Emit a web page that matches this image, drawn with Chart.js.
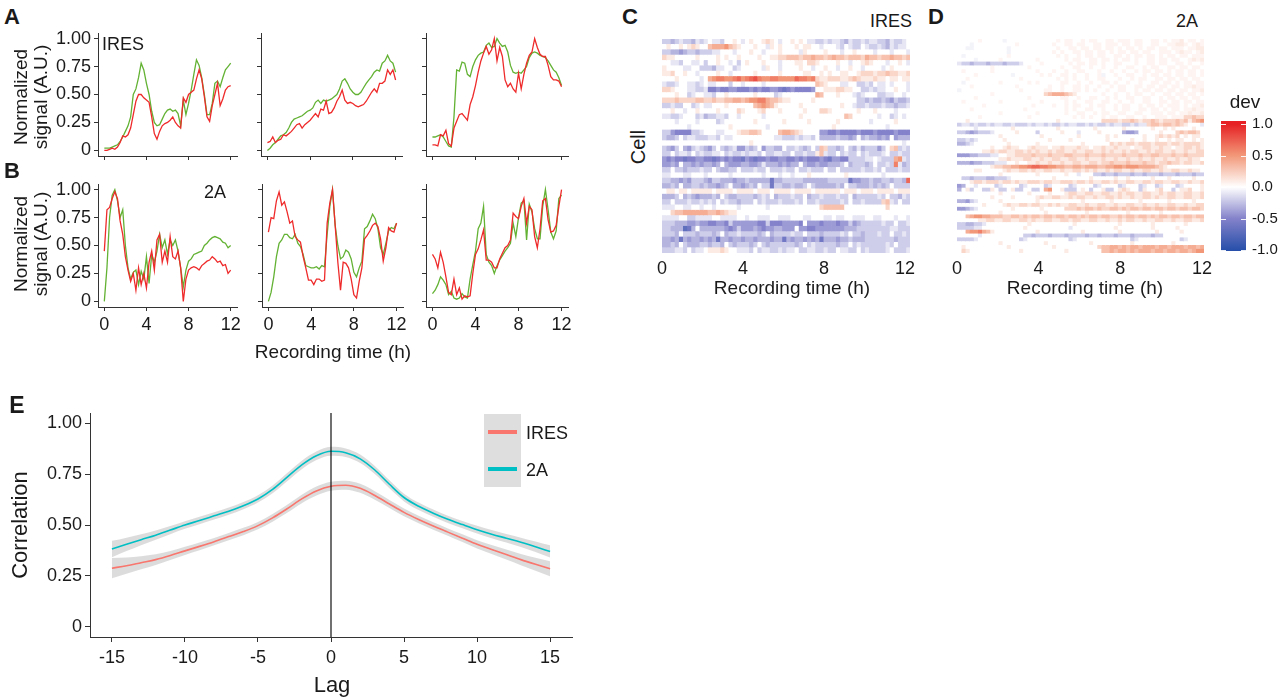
<!DOCTYPE html>
<html><head><meta charset="utf-8">
<script src="https://cdn.jsdelivr.net/npm/chart.js@4.4.0/dist/chart.umd.min.js"></script>
<style>
html,body{margin:0;padding:0}
body{width:1284px;height:697px;background:#fff;position:relative;overflow:hidden;font-family:"Liberation Sans",Arial,sans-serif;color:#1a1a1a}
canvas{position:absolute}
.t{position:absolute;white-space:nowrap;line-height:1}
</style></head><body>
<script>
// ---------------- DATA ----------------
const hours = [0,0.25,0.5,0.75,1,1.25,1.5,1.75,2,2.25,2.5,2.75,3,3.25,3.5,3.75,4,4.25,4.5,4.75,5,5.25,5.5,5.75,6,6.25,6.5,6.75,7,7.25,7.5,7.75,8,8.25,8.5,8.75,9,9.25,9.5,9.75,10,10.25,10.5,10.75,11,11.25,11.5,11.75,12];
const timeTicks = [0,4,8,12];
const signalTicks = [0,0.25,0.5,0.75,1];

const iresCell1Green = [0.02,0.02,0.02,0.03,0.04,0.05,0.08,0.12,0.17,0.22,0.3,0.5,0.55,0.65,0.78,0.72,0.6,0.5,0.35,0.25,0.22,0.23,0.28,0.33,0.36,0.37,0.35,0.36,0.33,0.22,0.45,0.32,0.42,0.54,0.68,0.81,0.76,0.65,0.5,0.32,0.32,0.42,0.6,0.62,0.57,0.65,0.72,0.75,0.78];
const iresCell1Red = [0,0,0.01,0.02,0.01,0.03,0.07,0.13,0.12,0.14,0.2,0.32,0.44,0.5,0.5,0.47,0.45,0.43,0.3,0.15,0.1,0.17,0.22,0.24,0.25,0.27,0.3,0.25,0.22,0.2,0.47,0.43,0.5,0.52,0.54,0.64,0.72,0.64,0.48,0.3,0.26,0.4,0.5,0.6,0.4,0.46,0.54,0.57,0.58];
const iresCell2Green = [0,0.02,0.05,0.07,0.1,0.13,0.14,0.16,0.2,0.25,0.28,0.29,0.3,0.31,0.33,0.35,0.36,0.38,0.43,0.45,0.42,0.45,0.44,0.45,0.46,0.48,0.5,0.55,0.62,0.64,0.6,0.55,0.52,0.5,0.5,0.52,0.56,0.6,0.63,0.66,0.7,0.72,0.71,0.78,0.8,0.85,0.8,0.78,0.7];
const iresCell2Red = [0.07,0.08,0.12,0.07,0.09,0.1,0.14,0.13,0.15,0.17,0.2,0.23,0.24,0.2,0.23,0.25,0.27,0.3,0.33,0.3,0.37,0.36,0.44,0.33,0.34,0.38,0.44,0.48,0.54,0.45,0.42,0.43,0.42,0.4,0.39,0.4,0.41,0.44,0.48,0.52,0.55,0.52,0.6,0.6,0.62,0.72,0.68,0.72,0.63];
const iresCell3Green = [0.12,0.12,0.13,0.14,0.12,0.08,0.04,0.03,0.3,0.72,0.71,0.79,0.78,0.68,0.66,0.75,0.81,0.85,0.87,0.88,0.94,0.96,0.92,0.93,1.0,0.96,0.93,0.94,0.88,0.76,0.7,0.69,0.7,0.69,0.72,0.75,0.83,0.87,0.88,0.87,0.85,0.84,0.83,0.8,0.76,0.72,0.7,0.65,0.58];
const iresCell3Red = [0.05,0.05,0.04,0.14,0.13,0.18,0.06,0.04,0.2,0.26,0.32,0.33,0.3,0.27,0.41,0.48,0.58,0.7,0.8,0.87,0.93,0.86,0.9,1.0,0.8,0.92,0.84,0.63,0.57,0.6,0.55,0.52,0.69,0.55,0.68,0.78,0.85,0.88,1.0,0.92,0.86,0.84,0.84,0.76,0.66,0.63,0.63,0.62,0.57];

const twoACell1Green = [0,0.3,0.75,0.95,1.0,0.9,0.75,0.82,0.5,0.3,0.2,0.26,0.28,0.15,0.27,0.2,0.4,0.16,0.42,0.35,0.45,0.6,0.48,0.55,0.42,0.55,0.5,0.55,0.45,0.3,0.13,0.28,0.36,0.38,0.42,0.43,0.44,0.45,0.5,0.52,0.55,0.57,0.58,0.57,0.56,0.53,0.52,0.48,0.5];
const twoACell1Red = [0.45,0.82,0.84,0.92,0.98,0.92,0.72,0.6,0.4,0.28,0.18,0.25,0.1,0.3,0.15,0.25,0.12,0.35,0.45,0.28,0.55,0.6,0.35,0.45,0.35,0.58,0.4,0.38,0.45,0.3,0,0.2,0.28,0.3,0.31,0.3,0.28,0.32,0.34,0.36,0.37,0.4,0.38,0.35,0.36,0.32,0.33,0.25,0.28];
const twoACell2Green = [0,0.08,0.22,0.4,0.52,0.55,0.6,0.6,0.57,0.56,0.6,0.52,0.49,0.42,0.32,0.31,0.3,0.3,0.31,0.29,0.32,0.31,0.6,0.85,1.0,0.68,0.5,0.38,0.4,0.46,0.44,0.38,0.26,0.22,0.3,0.36,0.65,0.67,0.72,0.78,0.74,0.65,0.48,0.42,0.52,0.63,0.66,0.65,0.7];
const twoACell2Red = [0.62,0.75,0.74,0.9,0.98,0.86,0.89,0.8,0.7,0.72,0.58,0.55,0.53,0.4,0.3,0.19,0.19,0.15,0.2,0.2,0.18,0.19,0.7,0.88,1.0,0.68,0.35,0.1,0.35,0.34,0.3,0.2,0.06,0.03,0.18,0.3,0.56,0.59,0.63,0.68,0.7,0.67,0.56,0.36,0.48,0.66,0.63,0.62,0.7];
const twoACell3Green = [0.07,0.1,0.15,0.22,0.19,0.15,0.06,0.09,0.03,0.02,0.03,0.07,0.04,0.03,0.2,0.33,0.45,0.65,0.7,0.85,0.42,0.35,0.32,0.25,0.32,0.37,0.41,0.45,0.48,0.52,0.7,0.58,0.75,0.88,0.9,0.55,0.87,0.8,0.65,0.56,0.56,0.85,1.0,0.82,0.62,0.56,0.63,0.92,0.95];
const twoACell3Red = [0.42,0.38,0.3,0.44,0.35,0.22,0.08,0.06,0.2,0.06,0.12,0.02,0.05,0.04,0.05,0.25,0.42,0.47,0.55,0.64,0.37,0.37,0.35,0.3,0.3,0.38,0.43,0.48,0.5,0.55,0.79,0.76,0.74,0.85,0.92,0.7,0.85,0.82,0.58,0.48,0.65,0.9,0.92,0.73,0.62,0.63,0.68,0.85,1.0];

// heatmap rows: one letter per time cell.
// lower case: j = 0, each letter step = 0.1 dev (i,h,g.. blue; k,l,m.. red)
// upper case: J = 0, each letter step = 0.05 dev (I blue, K,L red)
const iresRows = [
"hhghihhgih ijiihjjkji jkjjklkjij jkjkjiihhi hiihgihhih iihhgihhij",
"jkjjkjklkj jmnnnomlkj jjkjjikjkj jjkjkkjjij jjihjihhji hhihgihiij",
"hhggfghhgh hhiijjjijj jkjjijjjkj jjjikjjjjk jjjijjkjjj jijjjijjji",
"lkkjjjjjkj jjjkjkjjkj jjjkjjkkll mmmlmmnmml mnmmlmmmln mmlmmnmmlm",
"jjiihjjiij hjjkjjijhj kjjjkjjjij jjkkjllkjj jjkjjijjkl kjjjijjkji",
"kjjjjiijjh hhgiijjhij jjjjikjjij jjjkjjijjk jjijjkjjij jjjijkjjjj",
"kkljjkjjij jjjkjjijjj jjkjjjjjkj jjjjkkjjkj kjjkkjjkll lkllmllkkl",
"jjjkjjjjji jnoppoopqo pqrpooppoo ooqppoplkk lllkklmlkk klkkjkkjkk",
"ihhijjiihi jiijjjhjji jjjjijjjjj jjjjjjjmlk jjjiijjhhi hjiijijjji",
"llkjjjiihh ieefeeffee efefeeffed efeeeefjjk kkllkkjjhh ihiijjkjji",
"jjjkjjhijj iihjjkjjjj jjkjjjjhij jjjjjjjnmj jjkjjjihij jjhhiijjij",
"lllmllllmm llmllmmnnm nooppnmmlk kjjjjjkjjj jjjjjjjhhg hgghgfhggh",
"hhihhjjhij iijjjkjjjj jjmnonmkjj jjjkjjjjjj jjjkjjihhi hhhihhghhi",
"jjkjjijjkj jjjkjjjjlk jjjkljjjkj jjjjkjjjll kjjjjjjkjj jkjjjjijjj",
"iihhijjjhi ghhiihjjij jjjjijjjjj jjjkjjjjjj jjjjmljjjj jjijjhijij",
"jjjijjjjij jjjhijjjjj jjkjjjjjjk jjjjjkjjjj jjkjjjjjjj ijjjjjkjjj",
"jjjjjjijjj jjjjjjkjjj jjjjjijjjj jjjjjjjjjj jkjjjjjjjj jjjjijjjjj",
"hhfeeeehhi jjjiijjjkl lmmljjjjmn nmlkjjjjff eefeeeefee efeeeefeee",
"hgghjhiihh hiihjiijjj jjjjjjjiih hhihiihjgg gghggfgjgh ggfgfjfggg",
"jjjjjjjjjj jjjjjjjjjj jkjjjjjjjj jjjjjjjjjj jjjjjjjjjj jjjjjjjjij",
"hgfhjgfhih gfhjhghiff hghjfhhggj hhihghjhml hhghjhgigh hhfhjlmhih",
"hhjhiihjhi hhiijhihhi hiihjhhiih hjhhihhkmi hhjhihhjhi hhhijhhihh",
"fefeedeeff eedefefeed fedeefeeff eefefeeefe dffeehhhhi ijihhhnoih",
"ffgfjggfgf ggfgjgfffg gffgigggfg fggjgffgff ggghjghhhg hjhhihpigh",
"hhjhhghhhi hhjhgghhjh hhihhjhhhi hhjhhihhhj hhjhhhhhih hihjhhhihh",
"iijjjiijjj ijjjjjijjj jjjjijjjij jijjjkjjjj jjjjkjjjjj jjjijjjjjj",
"hhggfgfhhh gfhhgggfgg hgggggdggh hhhhgggggg hhhhhdffgg hgghhghhgq",
"gghgjgghhg hggfghjggf ghgjhhdhhg ghgghjhggg gghgjhhggg hghghjhhhh",
"jkkjkkjkkk kkjkkkkjkk kkjkkkjkkk kjkkkkjkkk kkkjkkkjkk kjkkkkjkkk",
"ggghjghgfg gghgjhgghh hhghihjghh hihhjghhih hhihhjghhh hhihjhhgih",
"hhjhhhihhi hihjhihhgh hhjhihhhih hhihjhhihh hhhihjhhih hhhlmihjhh",
"iiijjiijji jjijjjjjij jjjjjijjjj jjjjjjjjlm mmmmjjjjjj jjjjljjjjj",
"jjlmmnnnnn nmmnmlkkjj jjjjjjjjjj jjjjjjjjjj jjjjjjjjjj jjjjjjjjjj",
"iiiijjhhii iijjiiiijj ijjiiijjii ijjjiijjji ijiijjiiij jiijjjijji",
"hhhgggffgf feeffehfff fffeeheeef fffejfffef ffeffhfghh hhhihhjhhi",
"hhgggcdgjg gggggfefhf ffgfeffggf ffjffeefff ffffggghhh hhhhhiihhh",
"hhhgjhhhgh hhghjghhih hhhghjghhh hihhjhhhgh hhhihjhhgh hhihhjhhih",
"ggfgdgfggf gfgdggfggf ggfgggfggd gfggfgfgdg ggfgghgggh hhhhhhghhh",
"gghgjhgggh hghhgjhghh hghjhghhhh hhghjhihhh hhghhjhihh hhhhihjhhh",
"hhhiihjhii jkkklkjjii ihjhiihhih iijhhiihhi hhjiihhjhi hhhhijhhhi"
];
const twoARows = [
"JJJJJKJJJJ JIJJJJJJJJ JJJJKJKKJJ KJKKJJKKJK KKJKKJJKKJ KJKKLJKKJK",
"JJJIJJJJJJ JJJJKJJJJJ JJJKJJKKJK KJJKKJKKKJ KKJKKJJKKJ JKKLLKJKLK",
"JJIIJJJJJJ JJIJJJJJJJ JJJJKJJKKJ KKJKKJKKJK JKKJKJKKJK KJKKKJKKLL",
"JJJJJJJJJJ JJIJJJJJJJ JJJKJKJJKK JKKJKKJKJK KJKKJKKJJK KKJKLKKJKL",
"JIJJJJJJJJ JJKJJJJJJJ JJJJKJKJJK JKKJKKJJKK JKJKKJKKJK JKKJKKJKKK",
"JJJJIJJJJJ KJJJJJJJJK JJJJJJKJKK JJKKJKKJKJ KKJKJJKKJK KJKKJJKLKL",
"ihhghhhghh hghhhijjjj KJJJJJJKJK KJKKJKJJKK JJJKJJKKJK KJJKKJKJJK",
"JJJJJJJJKJ JJJJJJJKJJ JJJJJKJJKK JJKJJKJJKJ JKKJJKJKKJ JKKJKKJKKJ",
"JKJJJJJJKJ JJJJJJJJJK JJJKJJKJJK KJJJKJJKJJ KJJKJKKJKK JKJKKJKKJK",
"JJJJKJJJJJ JJJIJJJJJJ KJKJJKKJKJ JKJJKIJJKJ JKKJJKJKKJ KKJKKJKKJK",
"JJKJJJJJJJ JJJJJKJJJJ JJJJKJKJKJ JKJJKKJJJK JJKJKKJJKK JKKJKKJKKJ",
"JIJJJJJJJJ KJJJJJJKJK JJJJJKKJJK JJKJJKKJKJ JKJJKJJKKJ KKJKJKKJKK",
"JJJKJJJJJJ JJJJKJJJJJ JJKJJKJJKK JKJJKJJKJK KJJKKJKKJK KJKKJKKLKK",
"IJJJJJJJJJ JJJJJKJJJJ JKKJJKJJKK JKJKJJKJJK KJJKJKKJKK JKKJKKJKKL",
"JJJJJJJJKJ JJJJJJJJJJ jlmnnnmlkj JJJJJKJJKJ JKJKKJJKJJ KKJKKJKKJK",
"JJJJKJJJJJ JJJJJJJKJJ JJJJJKKJJK JJKKJJKJKJ JKKJJKKJJK JKKJKKJKKJ",
"JKJJJJJJJJ KJJJJJJJJJ KJJJJJKJKJ JKKJJKKJJK JJKJJKKJJK KJKKJKKJKK",
"JJJJJJKJJJ JJJJJJJJKJ JJJKJJKJKK JJKJKKJJKJ KKJJKJKKJK JKKKJKJKKL",
"JJJKJJJJJJ JJJJJJKJJJ JJJJJJKJKJ JKKJJKJJKJ KKJJKKJKKJ KJKKJKKLKK",
"JJJJJJJJJJ KJJJJJJJJK JJJJJJKJJK KJJKJKKJJK KJJKKJJKKK JKKJKKLKKL",
"JJJJJKJJJJ JJJJJJJKJJ JJJJJJJJKJ KJKJJKJKKJ JKKJJKJJKK KJKKKllmll",
"jjkjjjjjjj jjjjjjjjjj jjjjkjjjjj jjjjjllllk llmlkllmlk lllmlmkmno",
"hiihihhihi ihhihhhihi ihihhihiih hihihhihii hhihiilmml mmlmlkjjji",
"jjjjijjjjj jjjkjjjjjj jjjjkjjjjj jjjkjjjjjj kjjjjjjkjj kjkjjjjkjj",
"hhgfghhhij jjjjkjjjjh jjjjjkjjji jjjjkjjjjj gffgjjjjjk jjjlmlmmlj",
"jjjjjjjjjj kjjjjjjjjj kjjjjjjjjk jjjjjjkjkj jjjjjkjjkl klkljkjkkj",
"hhihijjjjj jkjjjjjjjj jjkjjjjkjj jjjjjjkjjj jjkjjkjjkj jkjkkjjkjk",
"gghijjjjjj jjkjjjjjjk jjjjjjjjjj kjjjjjjlkl kllklllkll lkllkllllk",
"jjjjjjjjkj jklkkjjklk kkjkklkkkl kkjkklkklk kkjkkllkkl kkjkkllklk",
"jjjjjjkklk llkkllklkl kklkllkklk kllkklklkk lkllkklkll kklkklkkll",
"fffgghhhii jjkkllllml llmlllmmll lmlllmllll mlllmllmml llmllmllll",
"jjjjjjjjjj kklkkkllkk lkkllkkllk klkkklkklk klkklkklkk lkklkklkkj",
"gggfgghhhi iijjkjjkkl kklkklkkll kkllkllmll lmlllmllkl lmllkllkkl",
"jjjjjjjjkl lmmnnoopqq ppoonnmmnn mnnnmmnnoo nooonnnnml kjjjjjjjjj",
"jjjjkkjjjj jklkkllklk kllkklkkll klklkklkll kklkkllkkl kkllkklkkj",
"jjjjjjjjjj kjjjjjjjjk jjjjjjkjji jjjhhghhgh hhghhghhhg hhhghhhghh",
"jhhghhhggh hhijjjjjjj jjjkjjjjjj jjkjjjjjkj jkjjjjjkjj jkjjjjjkjj",
"jjjkllklll kllklkklll kllkklllkl lklkkllklk kllkkllkll kkllkklkkl",
"fgjjijjjjh ijjjjhijjj jhijjjjhij jjjhijjjjh ijjjhijjhi jjjhijjjjk",
"gjkhjjhhkj hhjkhhjjhh jnojjkhhhj kjhjjkhhjk lkjjhkjjkl jjhjkkljjk",
"jjjjjjjjjj kjjjjjjkjj jjkjjjkllk kllkkllkkl kllkkllkkl kllkkllkkl",
"jjjjjjjjkj jjjkjjjjjk lkkllkklkl lkklkkllkl kklkkllklk kllkkllkkl",
"ggfhijjjjj kjjjjjjjjk jjjjjjjjjj kjjjjjjkjj jjjjkjjjjj jkjjjjjkjj",
"jjjjjjkjjj jklkkllkll kklklkkllk klkkllkklk kllkklkklk kllkklkkll",
"ffghijjjjj jjjkjjjjjj kjjjjjlllm lmmlmllmml mlmmlmmlmm lmmlmmlmml",
"jjjjjjjjjj kjjjjjjjjj jkjjjjjjjj jkjjjjjjjj jkjjjjjjjk jjjjjjjjjj",
"jjmnoonnmm mllmmlmlmm lmmlmmlmml mlmmlmmllm lmmlmmlmlm mlmmlmmlmm",
"jjjjjkkllk kllkkllklk kllkkllkll kkllkklkkl kllkklkkll kklkkllkkl",
"hhgghhijjj jjjjjjjkjj jjjjjjjjkj jjjjjjjjjk jjjjjjjkjj jjjjjkjjjj",
"hhhhiijjjj jjjjjjkjjj jjjjjjjijj jjjjjjjjkj jjjjjjjkjj jjjkjjjjjj",
"jjnoopnmkj jjjjjjjjjk jjjjjjjjjj kjjjjjjjjk jjjjjjjjkj jjjjkjjjjj",
"jjjjjijjjj jjjjjjhhgh hhghhhghhh hghhghhhgh hhghhhhghh jjjjjjjjjj",
"hhhhijjjjj jjjjjhijjj jjjjjjjhij jjjjjjjjjj jjhijjjjjj jjjjhijjjj",
"jjjjjjjjjj kjjjjjjjjj jkjjjjjjjj jjkjjjjjjj jjkjjjjjjj jjkjjjjjjj",
"jkjjjjjjjj jjkjjjjjjj jjjkjjjjjj jjjjlmmnnm nmnnmnnnmn nmnnnmnnmn",
"jlkjjjjjjj jjjjjkjjjj jjjjjjkjjj jjjjjmmnmn nmnmnnnmnn mnnmnnmnoo"
];
const devTicks = [-1,-0.5,0,0.5,1];

const lags = [-15,-14,-13,-12,-11,-10,-9,-8,-7,-6,-5,-4,-3,-2,-1,0,1,2,3,4,5,6,7,8,9,10,11,12,13,14,15];
const lagTicks = [-15,-10,-5,0,5,10,15];
const corrTicks = [0,0.25,0.5,0.75,1];
const iresCorr = [0.288,0.3,0.315,0.33,0.35,0.373,0.395,0.418,0.443,0.468,0.497,0.535,0.58,0.628,0.667,0.69,0.695,0.68,0.645,0.603,0.562,0.527,0.495,0.465,0.435,0.405,0.38,0.355,0.33,0.307,0.285];
const iresSe = [0.05,0.04,0.032,0.026,0.022,0.02,0.019,0.018,0.018,0.018,0.018,0.019,0.02,0.021,0.022,0.022,0.022,0.022,0.021,0.02,0.019,0.018,0.018,0.018,0.019,0.02,0.022,0.025,0.028,0.032,0.037];
const twoACorr = [0.382,0.405,0.428,0.45,0.475,0.5,0.522,0.545,0.568,0.595,0.628,0.675,0.735,0.795,0.84,0.862,0.855,0.825,0.77,0.70,0.635,0.592,0.558,0.528,0.502,0.477,0.455,0.435,0.415,0.393,0.37];
const twoASe = [0.04,0.033,0.027,0.023,0.02,0.019,0.018,0.018,0.018,0.018,0.018,0.019,0.02,0.021,0.021,0.022,0.021,0.021,0.02,0.02,0.019,0.018,0.018,0.018,0.018,0.019,0.02,0.021,0.023,0.026,0.03];

// ---------------- STYLE ----------------
const FONT = '"Liberation Sans", Arial, sans-serif';
const GREEN = '#63b234', RED = '#ef2a2a';
const IRES_COL = '#F8766D', TWOA_COL = '#00BFC4';
const BAND = 'rgba(150,150,150,0.33)';
const DEV_STOPS = [[-1,[40,80,170]],[-0.5,[132,130,202]],[0,[255,255,255]],[0.5,[242,152,120]],[1,[230,32,36]]];
Chart.defaults.font.family = FONT;
Chart.defaults.color = '#1a1a1a';
Chart.defaults.animation = false;

function devColor(v){
  v = Math.max(-1, Math.min(1, v));
  for (let i=0;i<DEV_STOPS.length-1;i++){
    const [a,ca]=DEV_STOPS[i],[b,cb]=DEV_STOPS[i+1];
    if (v>=a && v<=b){ const f=(v-a)/(b-a); return 'rgb('+ca.map((c,k)=>Math.round(c+(cb[k]-c)*f)).join(',')+')'; }
  }
  return '#fff';
}
function decode(s){
  const out=[]; const re=/([a-zA-Z])(\d*)/g; let m;
  while((m=re.exec(s))){
    const n=m[2]?+m[2]:1, ch=m[1], code=ch.charCodeAt(0);
    const v = (ch>='a') ? (code-106)/10 : (code-74)/20;
    for(let i=0;i<n;i++) out.push(v);
  }
  while(out.length<60) out.push(0);
  return out.slice(0,60);
}

function place(rect, m, config){
  const c=document.createElement('canvas');
  const w=rect.r-rect.l+m.l+m.r, h=rect.b-rect.t+m.t+m.b;
  c.width=w; c.height=h;
  c.style.left=(rect.l-m.l)+'px'; c.style.top=(rect.t-m.t)+'px';
  c.style.width=w+'px'; c.style.height=h+'px';
  document.body.appendChild(c);
  const o=config.options;
  o.responsive=false; o.animation=false; o.devicePixelRatio=1;
  o.layout={padding:{left:0,top:m.t,right:m.r,bottom:0}};
  o.plugins=Object.assign({legend:{display:false},tooltip:{enabled:false}}, o.plugins||{});
  o.scales.x.afterFit = a=>{a.height=m.b;};
  o.scales.y.afterFit = a=>{a.width=m.l;};
  return new Chart(c, config);
}
function axis(ticksArr, show, fmt, tl, pad){
  return {
    afterBuildTicks: a=>{a.ticks=ticksArr.map(v=>({value:v}));},
    ticks:{display:show, font:{size:18}, color:'#1a1a1a', padding:pad, autoSkip:false, maxRotation:0, callback:fmt},
    grid:{display:true, drawOnChartArea:false, drawTicks:true, tickLength:tl, tickColor:'#333', lineWidth:1},
    border:{display:true, color:'#333', width:1}
  };
}
const fmtSig = v => v===0 ? '0' : v.toFixed(2);
const fmtInt = v => String(v);

function linePanel(rect, green, red, showY, showX){
  const x = Object.assign({type:'linear', min:-0.6, max:12.6}, axis(timeTicks, showX, fmtInt, 4, 3));
  const y = Object.assign({type:'linear', min:-0.05, max:1.05}, axis(signalTicks, showY, fmtSig, 4, 3));
  return place(rect, {l: showY?60:10, t:16, r:14, b: showX?30:18}, {
    type:'line',
    data:{datasets:[
      {data: hours.map((t,i)=>({x:t,y:red[i]})), borderColor:RED, borderWidth:1.3, pointRadius:0, tension:0},
      {data: hours.map((t,i)=>({x:t,y:green[i]})), borderColor:GREEN, borderWidth:1.3, pointRadius:0, tension:0}
    ]},
    options:{scales:{x, y}}
  });
}

linePanel({l:98,r:237,t:33,b:156}, iresCell1Green, iresCell1Red, true, false);
linePanel({l:261,r:402,t:33,b:156}, iresCell2Green, iresCell2Red, false, false);
linePanel({l:426,r:568,t:33,b:156}, iresCell3Green, iresCell3Red, false, false);
linePanel({l:98,r:237,t:184,b:307}, twoACell1Green, twoACell1Red, true, true);
linePanel({l:262,r:403,t:184,b:307}, twoACell2Green, twoACell2Red, false, true);
linePanel({l:426,r:568,t:184,b:307}, twoACell3Green, twoACell3Red, false, true);

function heatmap(rect, rows, xmax){
  const grid=rows.map(decode);
  const nC=60, w=xmax/nC;
  const datasets=[];
  for(let j=0;j<nC;j++){
    datasets.push({data:grid.map(()=>w), backgroundColor:grid.map(r=>devColor(r[j])), borderWidth:0, barPercentage:1, categoryPercentage:1});
  }
  return place(rect, {l:12,t:4,r:12,b:34}, {
    type:'bar',
    data:{labels:grid.map((_,i)=>'cell '+(i+1)), datasets},
    options:{indexAxis:'y', scales:{
      x:{type:'linear', stacked:true, min:0, max:xmax,
         afterBuildTicks:a=>{a.ticks=timeTicks.map(v=>({value:v}));},
         ticks:{font:{size:18}, color:'#1a1a1a', padding:5, autoSkip:false, maxRotation:0},
         grid:{display:false, drawTicks:false}, border:{display:false}},
      y:{stacked:true, ticks:{display:false}, grid:{display:false, drawTicks:false}, border:{display:false}}
    }}
  });
}
heatmap({l:662,r:910,t:39,b:253}, iresRows, 12.25);
heatmap({l:957,r:1205,t:39,b:253}, twoARows, 12.1);

// colour bar
(function(){
  const c=document.createElement('canvas');
  c.width=70; c.height=162; c.style.left='1221px'; c.style.top='105px'; c.style.width='70px'; c.style.height='162px';
  document.body.appendChild(c);
  const bar={id:'cbar', beforeDatasetsDraw(chart){
    const {ctx, chartArea:a, scales:{y}}=chart;
    const g=ctx.createLinearGradient(0,y.getPixelForValue(-1),0,y.getPixelForValue(1));
    DEV_STOPS.forEach(([v,col])=>g.addColorStop((v+1)/2,'rgb('+col.join(',')+')'));
    ctx.save(); ctx.fillStyle=g; ctx.fillRect(a.left,a.top,a.right-a.left,a.bottom-a.top);
    ctx.strokeStyle='rgba(255,255,255,0.9)'; ctx.lineWidth=1;
    devTicks.forEach(v=>{const p=Math.round(y.getPixelForValue(v))+0.5; ctx.beginPath(); ctx.moveTo(a.left,p); ctx.lineTo(a.left+5,p); ctx.moveTo(a.right-5,p); ctx.lineTo(a.right,p); ctx.stroke();});
    ctx.restore();
  }};
  new Chart(c,{type:'bar', data:{labels:[''], datasets:[{data:[]}]}, plugins:[bar],
    options:{responsive:false, animation:false, devicePixelRatio:1,
      layout:{padding:{left:0,top:16,right:0,bottom:16}},
      plugins:{legend:{display:false},tooltip:{enabled:false}},
      scales:{x:{display:false},
        y:{position:'right', min:-1.016, max:1.048, afterFit:a=>{a.width=45;},
           afterBuildTicks:a=>{a.ticks=devTicks.map(v=>({value:v}));},
           ticks:{font:{size:15}, color:'#1a1a1a', padding:6, callback:v=>v.toFixed(1)},
           grid:{display:false, drawTicks:false}, border:{display:false}}}}});
})();

// panel E
(function(){
  const x=Object.assign({type:'linear', min:-16.5, max:16.5}, axis(lagTicks, true, fmtInt, 5, 5));
  const y=Object.assign({type:'linear', min:-0.05, max:1.05}, axis(corrTicks, true, fmtSig, 5, 3));
  const pts=(m,s,k)=>lags.map((l,i)=>({x:l, y:m[i]+k*s[i]}));
  place({l:90,r:572,t:413,b:637}, {l:70,t:16,r:16,b:40}, {
    type:'line',
    data:{datasets:[
      {data:[{x:0,y:-0.05},{x:0,y:1.05}], borderColor:'#111', borderWidth:1.2, pointRadius:0},
      {data:pts(twoACorr,twoASe,0), borderColor:TWOA_COL, borderWidth:1.6, pointRadius:0, cubicInterpolationMode:'monotone'},
      {data:pts(iresCorr,iresSe,0), borderColor:IRES_COL, borderWidth:1.6, pointRadius:0, cubicInterpolationMode:'monotone'},
      {data:pts(twoACorr,twoASe,1), borderWidth:0, borderColor:'rgba(0,0,0,0)', pointRadius:0, cubicInterpolationMode:'monotone', fill:false},
      {data:pts(twoACorr,twoASe,-1), borderWidth:0, borderColor:'rgba(0,0,0,0)', pointRadius:0, cubicInterpolationMode:'monotone', fill:'-1', backgroundColor:BAND},
      {data:pts(iresCorr,iresSe,1), borderWidth:0, borderColor:'rgba(0,0,0,0)', pointRadius:0, cubicInterpolationMode:'monotone', fill:false},
      {data:pts(iresCorr,iresSe,-1), borderWidth:0, borderColor:'rgba(0,0,0,0)', pointRadius:0, cubicInterpolationMode:'monotone', fill:'-1', backgroundColor:BAND}
    ]},
    options:{scales:{x,y}}
  });
})();

// ---------------- TEXT ----------------
function label(txt,x,y,size,o={}){
  const d=document.createElement('div'); d.className='t'; d.textContent=txt;
  d.style.fontSize=size+'px'; if(o.bold) d.style.fontWeight='bold';
  d.style.left=x+'px'; d.style.top=y+'px';
  const ax=o.align==='start'?'0':(o.align==='end'?'-100%':'-50%');
  d.style.transform='translate('+ax+',-50%)'+(o.rot?' rotate(-90deg)':'');
  document.body.appendChild(d); return d;
}
label('A',12,17,22,{bold:true});
label('B',12,171,22,{bold:true});
label('C',630,17,22,{bold:true});
label('D',936,17,22,{bold:true});
label('E',17,405,23,{bold:true});
label('IRES',102,44,18,{align:'start'});
label('2A',215,192,18);
label('Normalized',20,97,19,{rot:true});
label('signal (A.U.)',40,97,19,{rot:true});
label('Normalized',20,244,19,{rot:true});
label('signal (A.U.)',40,244,19,{rot:true});
label('Recording time (h)',333,351,19);
label('IRES',912,21,18,{align:'end'});
label('2A',1187,21,18);
label('Cell',638,147,20,{rot:true});
label('Recording time (h)',792,287,19);
label('Recording time (h)',1085,287,19);
label('dev',1245,101,19);
label('Correlation',20,525,22,{rot:true});
label('Lag',332,685,22);
// legend E
(function(){
  const box=document.createElement('div');
  box.style.cssText='position:absolute;left:484px;top:414px;width:37px;height:73px;background:#dedede';
  document.body.appendChild(box);
  [[IRES_COL,432],[TWOA_COL,469]].forEach(([c,y])=>{
    const l=document.createElement('div');
    l.style.cssText='position:absolute;left:488px;width:29px;height:4px;top:'+(y-2)+'px;background:'+c;
    document.body.appendChild(l);
  });
  label('IRES',526,433,18,{align:'start'});
  label('2A',526,470,18,{align:'start'});
})();
</script>
</body></html>
